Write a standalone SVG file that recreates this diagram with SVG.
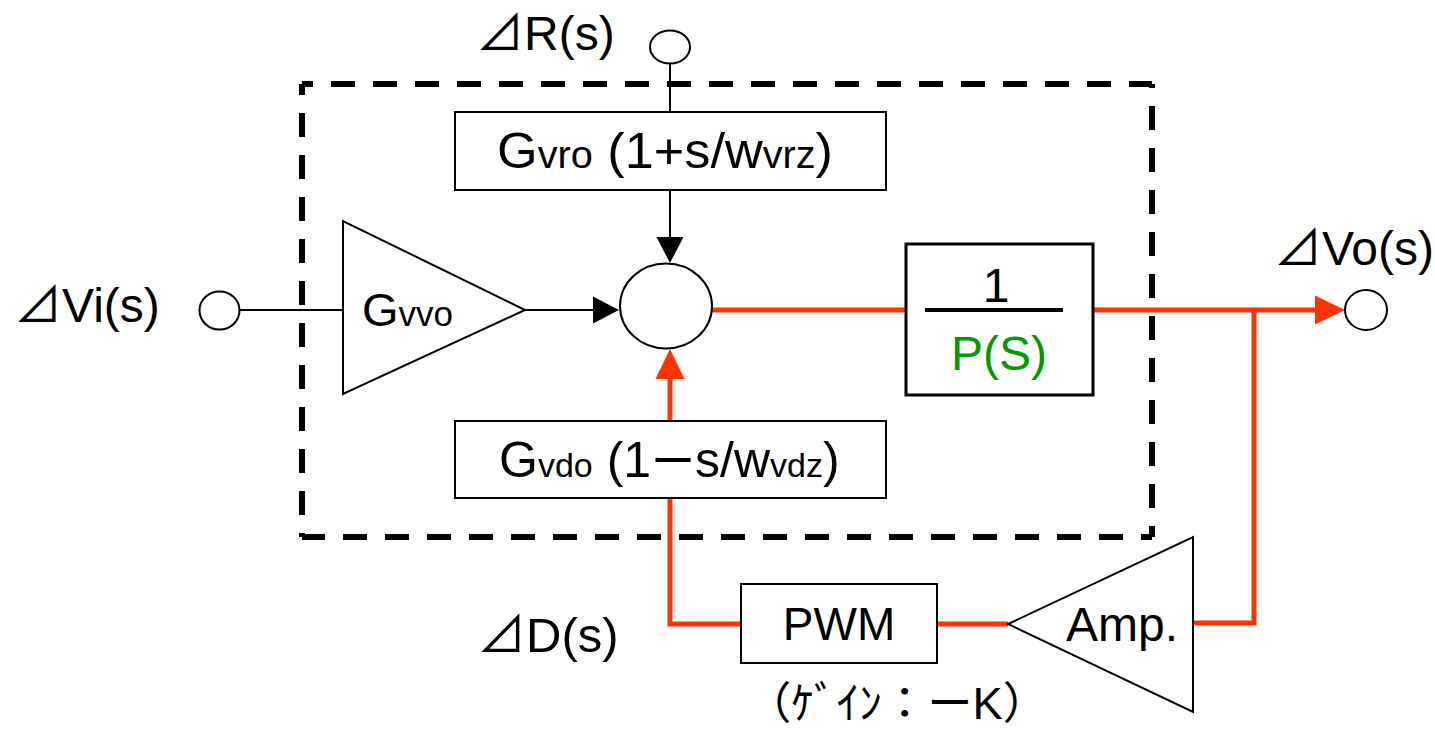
<svg xmlns="http://www.w3.org/2000/svg" width="1435" height="730" viewBox="0 0 1435 730">
<style>
text{font-family:"Liberation Sans","Noto Sans CJK JP",sans-serif;fill:#000}
.box{fill:#fff;stroke:#000;stroke-width:2}
.port{fill:#fff;stroke:#000;stroke-width:2}
.blk{fill:none;stroke:#000;stroke-width:2}
.red{fill:none;stroke:#FF3300;stroke-width:5}
.dash{fill:none;stroke:#000;stroke-width:6;stroke-dasharray:24 18;stroke-dashoffset:13}
.lbl{font-size:48px}
</style>
<defs>
<marker id="ab" markerUnits="userSpaceOnUse" markerWidth="27" markerHeight="27" refX="0" refY="13.5" orient="auto" overflow="visible"><path d="M0,0 L26,13.5 L0,27 Z" fill="#000"/></marker>
<marker id="ar" markerUnits="userSpaceOnUse" markerWidth="30" markerHeight="29" refX="0" refY="14.5" orient="auto" overflow="visible"><path d="M0,0 L30,14.5 L0,29 Z" fill="#FF3300"/></marker>
</defs>
<g id="boundary">
<path class="dash" d="M302,84 H1152 M302,84 V537 M1152,537 H302 M1152,537 V84"/>
</g>
<g id="connectors">
<path class="blk" d="M240,310 H343"/>
<path class="blk" d="M525,310 H593" marker-end="url(#ab)"/>
<path class="blk" d="M670,63 V112"/>
<path class="blk" d="M670,190 V237" marker-end="url(#ab)"/>
<path class="red" d="M712,310 H905"/>
<path class="red" d="M1093,310 H1315" marker-end="url(#ar)"/>
<path class="red" d="M1254,310 V623 H1193"/>
<path class="red" d="M1008,624 H937"/>
<path class="red" d="M741,624 H670 V498"/>
<path class="red" d="M670,421 V379" marker-end="url(#ar)"/>
</g>
<g id="vi-port"><ellipse class="port" cx="219.5" cy="310.5" rx="20" ry="19"/><text class="lbl" x="14" y="322">⊿Vi(s)</text></g>
<g id="r-port"><ellipse class="port" cx="670" cy="47" rx="20" ry="16.5"/><text class="lbl" x="476" y="50">⊿R(s)</text></g>
<g id="vo-port"><ellipse class="port" cx="1366" cy="310" rx="21" ry="20"/><text class="lbl" x="1274" y="265">⊿Vo(s)</text></g>
<g id="d-label"><text class="lbl" x="477" y="652" font-size="49" style="font-size:49px">⊿D(s)</text></g>
<g id="gvvo"><polygon class="box" points="343,221 343,394 525,310"/><text x="362" y="326"><tspan font-size="47">G</tspan><tspan font-size="35">vvo</tspan></text></g>
<g id="gvro"><rect class="box" x="455" y="112" width="431" height="78"/><text x="497" y="168" textLength="336" lengthAdjust="spacingAndGlyphs"><tspan font-size="50">G</tspan><tspan font-size="38">vro</tspan><tspan font-size="50"> (1+s/w</tspan><tspan font-size="38">vrz</tspan><tspan font-size="50">)</tspan></text></g>
<g id="sum"><ellipse class="port" cx="666" cy="306" rx="46" ry="42.5"/></g>
<g id="gvdo"><rect class="box" x="455" y="421" width="431" height="77"/><text x="499" y="477"><tspan font-size="50">G</tspan><tspan font-size="34">vdo</tspan><tspan font-size="50"> (1</tspan><tspan font-size="44">ー</tspan><tspan font-size="50">s/w</tspan><tspan font-size="34">vdz</tspan><tspan font-size="50">)</tspan></text></g>
<g id="plant"><rect x="906" y="244" width="187" height="151" fill="#fff" stroke="#000" stroke-width="3"/><line x1="925" y1="310" x2="1063" y2="310" stroke="#000" stroke-width="4"/><text x="996" y="302" font-size="48" text-anchor="middle">1</text><text x="999" y="370" font-size="48" text-anchor="middle" style="fill:#009A00">P(S)</text></g>
<g id="pwm"><rect class="box" x="741" y="584" width="196" height="79"/><text x="839" y="640" font-size="46" text-anchor="middle">PWM</text><text x="746" y="719" font-size="44" textLength="302" lengthAdjust="spacingAndGlyphs">（ｹﾞｲﾝ：ーK）</text></g>
<g id="amp"><polygon class="box" points="1193,537 1193,712 1008,624"/><text x="1066" y="641" font-size="48">Amp.</text></g>
</svg>
